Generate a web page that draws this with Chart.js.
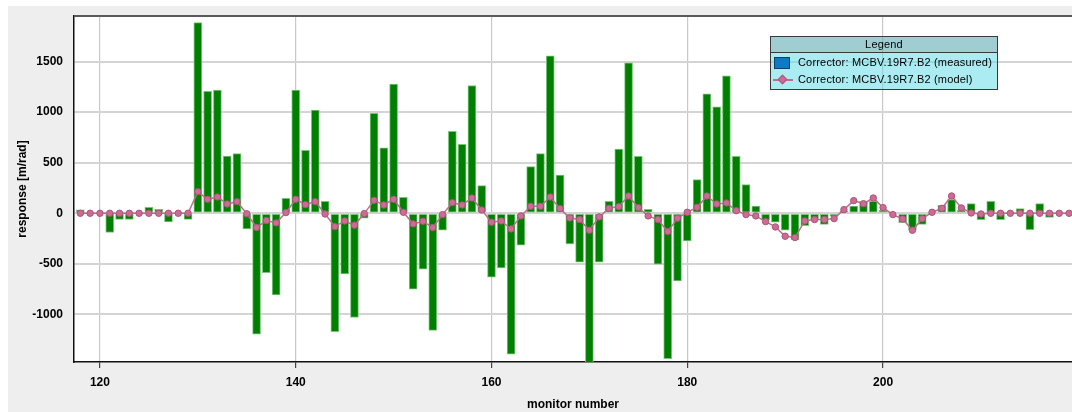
<!DOCTYPE html>
<html>
<head>
<meta charset="utf-8">
<script src="https://cdn.jsdelivr.net/npm/chart.js@4.4.1/dist/chart.umd.min.js"></script>
<style>
  html, body { margin: 0; padding: 0; background: #ffffff; }
  #wrap { position: relative; width: 1072px; height: 412px; overflow: hidden; }
  #chart { display: block; }
  #legend {
    position: absolute; left: 770px; top: 36px; width: 228px;
    border: 1px solid #3a3a3a; box-sizing: border-box;
    font-family: "Liberation Sans", Arial, sans-serif; font-size: 11px; color: #000;
    letter-spacing: 0.18px;
  }
  #legend .head {
    height: 15px; line-height: 15px; text-align: center;
    background: rgba(109, 178, 184, 0.65); border-bottom: 1px solid #3a3a3a;
  }
  #legend .body { background: rgba(100, 220, 230, 0.55); padding: 1px 0 1px 0; }
  #legend .row { position: relative; height: 17px; line-height: 17px; padding-left: 27px; white-space: nowrap; }
  #legend .swatch {
    position: absolute; left: 3px; top: 3px; width: 14px; height: 10px;
    border: 1px solid #123f66;
  }
  #legend .lineMark { position: absolute; left: 2px; top: 8px; width: 20px; height: 1.5px; }
  #legend .diamond {
    position: absolute; left: 8px; top: 5px; width: 5px; height: 5px; transform: rotate(45deg);
    border: 1px solid #a8557a;
  }
</style>
</head>
<body>
<div id="wrap">
  <canvas id="chart" width="1072" height="412"></canvas>
  <div id="legend"></div>
</div>
<script>
// Monitor numbers along the beam line
const monitorNumbers = [
  118, 119, 120, 121, 122, 123, 124, 125, 126, 127, 128, 129,
  130, 131, 132, 133, 134, 135, 136, 137, 138, 139,
  140, 141, 142, 143, 144, 145, 146, 147, 148, 149,
  150, 151, 152, 153, 154, 155, 156, 157, 158, 159,
  160, 161, 162, 163, 164, 165, 166, 167, 168, 169,
  170, 171, 172, 173, 174, 175, 176, 177, 178, 179,
  180, 181, 182, 183, 184, 185, 186, 187, 188, 189,
  190, 191, 192, 193, 194, 195, 196, 197, 198, 199,
  200, 201, 202, 203, 204, 205, 206, 207, 208, 209,
  210, 211, 212, 213, 214, 215, 216, 217, 218, 219
];

// Measured orbit response to the corrector kick [m/rad]
const measuredResponse = [
  35, 0, 0, -190, -60, -60, 0, 60, 38, -85, 0, -60,
  1885, 1205, 1218, 566, 589, -155, -1194, -586, -806, 148,
  1217, 622, 1020, 118, -1171, -599, -1030, -49, 987, 648,
  1277, 158, -750, -553, -1158, -168, 809, 681, 1263, 273,
  -632, -540, -1392, -316, 461, 589, 1556, 378, -303, -484,
  -1520, -484, 118, 635, 1487, 563, 40, -503, -1438, -668,
  -273, 332, 1181, 1053, 1359, 563, 283, 72, -69, -89,
  -168, -260, -122, -69, -109, -30, 20, 72, 118, 118,
  30, 0, -92, -161, -109, 0, 79, 135, 30, 95,
  -62, 118, -62, 0, 46, -161, 95, -40, 0, 0
];

// Model prediction for the same corrector [m/rad]
const modelResponse = [
  0, 0, 0, 0, 0, 0, 0, 0, 0, 0, 0, 0,
  214, 138, 161, 92, 115, -5, -141, -72, -95, 7,
  138, 86, 115, -7, -132, -76, -118, -3, 128, 82,
  138, 10, -105, -79, -141, -13, 105, 82, 151, 33,
  -89, -76, -155, -26, 69, 69, 161, 46, -46, -62,
  -168, -36, 49, 66, 171, 56, -26, -62, -181, -49,
  10, 59, 171, 92, 102, 26, -13, -26, -82, -135,
  -227, -240, -76, -62, -62, -53, 36, 125, 95, 151,
  56, -13, -56, -168, -53, 10, 49, 171, 53, 3,
  -7, 0, 0, 0, 0, 0, 0, 0, 0, 0
];

const seriesLabels = [
  "Corrector: MCBV.19R7.B2 (measured)",
  "Corrector: MCBV.19R7.B2 (model)"
];

// Tick values shown on each axis
const xTickValues = [120, 140, 160, 180, 200];
const yTickValues = [-1000, -500, 0, 500, 1000, 1500];

const axisTitles = { x: "monitor number", y: "response [m/rad]" };
const legendTitle = "Legend";

const tickFont = { family: "'Liberation Sans', Arial, sans-serif", size: 12, weight: "bold" };

// Panel background, plot background and the frame line on top of the plot
const framePlugin = {
  id: "frame",
  beforeDraw(chart) {
    const { ctx, chartArea: a, width, height } = chart;
    ctx.save();
    ctx.fillStyle = "#ffffff";
    ctx.fillRect(0, 0, width, height);
    ctx.fillStyle = "#eeeeee";
    ctx.fillRect(8, 6, width - 8, height - 6);
    ctx.fillStyle = "#ffffff";
    ctx.fillRect(a.left, a.top, a.right - a.left, a.bottom - a.top);
    ctx.restore();
  },
  afterDraw(chart) {
    const { ctx, chartArea: a } = chart;
    ctx.save();
    ctx.strokeStyle = "#5a5a5a";
    ctx.lineWidth = 2;
    ctx.beginPath();
    ctx.moveTo(a.left, a.top);
    ctx.lineTo(a.right, a.top);
    ctx.stroke();
    ctx.restore();
  }
};

// Boxed legend with a header row, built from the chart's datasets
const boxLegendPlugin = {
  id: "boxLegend",
  afterUpdate(chart) {
    const el = document.getElementById("legend");
    el.innerHTML = "";
    const head = document.createElement("div");
    head.className = "head";
    head.textContent = legendTitle;
    el.appendChild(head);
    const body = document.createElement("div");
    body.className = "body";
    chart.data.datasets.forEach(ds => {
      const row = document.createElement("div");
      row.className = "row";
      if (ds.type === "bar") {
        const sw = document.createElement("span");
        sw.className = "swatch";
        sw.style.background = ds.legendColor;
        row.appendChild(sw);
      } else {
        const ln = document.createElement("span");
        ln.className = "lineMark";
        ln.style.background = ds.borderColor;
        const dm = document.createElement("span");
        dm.className = "diamond";
        dm.style.background = ds.pointBackgroundColor;
        row.appendChild(ln);
        row.appendChild(dm);
      }
      row.appendChild(document.createTextNode(ds.label));
      body.appendChild(row);
    });
    el.appendChild(body);
  }
};

new Chart(document.getElementById("chart"), {
  type: "bar",
  data: {
    datasets: [
      {
        type: "bar",
        label: seriesLabels[0],
        data: monitorNumbers.map((m, i) => ({ x: m, y: measuredResponse[i] })),
        backgroundColor: "#007f00",
        borderColor: "#7cc47c",
        borderWidth: 1,
        borderSkipped: false,
        barThickness: 8,
        legendColor: "#0a7bc6",
        order: 1
      },
      {
        type: "line",
        label: seriesLabels[1],
        data: monitorNumbers.map((m, i) => ({ x: m, y: modelResponse[i] })),
        borderColor: "#b9708f",
        borderWidth: 1.5,
        pointRadius: 3.2,
        pointBackgroundColor: "#cf6b93",
        pointBorderColor: "#a8557a",
        pointBorderWidth: 1,
        tension: 0,
        order: 0
      }
    ]
  },
  options: {
    responsive: false,
    animation: false,
    devicePixelRatio: 1,
    layout: { autoPadding: false, padding: { top: 16, right: 0, bottom: 0, left: 0 } },
    plugins: {
      legend: { display: false },
      tooltip: { enabled: false }
    },
    scales: {
      x: {
        type: "linear",
        offset: false,
        min: 117.35,
        max: 219.3,
        afterFit(scale) {
          scale.height = 50;
          scale.paddingLeft = 0;
          scale.paddingRight = 0;
        },
        afterBuildTicks(scale) { scale.ticks = xTickValues.map(v => ({ value: v })); },
        ticks: {
          color: "#000",
          font: tickFont,
          padding: 7,
          maxRotation: 0,
          autoSkip: false
        },
        grid: {
          offset: false,
          color: "#c8c8c8",
          lineWidth: 1.2,
          drawTicks: true,
          tickLength: 6,
          tickColor: "#444"
        },
        border: { color: "#111", width: 1.5 },
        title: {
          display: true,
          text: axisTitles.x,
          color: "#000",
          font: tickFont,
          padding: { top: 0, bottom: 0 }
        }
      },
      y: {
        type: "linear",
        min: -1470,
        max: 1950,
        afterFit(scale) {
          scale.width = 74;
          scale.paddingTop = 0;
          scale.paddingBottom = 0;
        },
        afterBuildTicks(scale) { scale.ticks = yTickValues.map(v => ({ value: v })); },
        ticks: {
          color: "#000",
          font: tickFont,
          padding: 11,
          autoSkip: false,
          callback: v => String(v)
        },
        grid: {
          color: "#d4d4d4",
          lineWidth: 2,
          drawTicks: false
        },
        border: { color: "#111", width: 1.5 },
        title: {
          display: true,
          text: axisTitles.y,
          color: "#000",
          font: tickFont,
          padding: { top: 15, bottom: 0 }
        }
      }
    }
  },
  plugins: [framePlugin, boxLegendPlugin]
});
</script>
</body>
</html>
